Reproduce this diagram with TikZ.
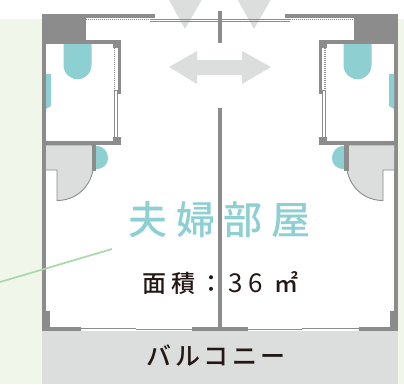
\documentclass[tikz,border=0pt]{standalone}
\usepackage{fontspec}
\setmainfont{Liberation Sans}
\newfontfamily\cjk{Noto Sans CJK JP}
\newfontfamily\cjkb{Noto Sans CJK JP Medium}
\definecolor{wallc}{HTML}{8C8C8C}
\definecolor{palegreen}{HTML}{F1F6EA}
\definecolor{lightgray}{HTML}{DCDEDD}
\definecolor{tealc}{HTML}{8ED0D2}
\definecolor{leader}{HTML}{A9D8A9}
\definecolor{inkc}{HTML}{231815}
\tikzset{
  wall/.style={fill=wallc,draw=none},
  fixture/.style={fill=tealc,draw=none},
  soft/.style={fill=lightgray,draw=none},
  doorline/.style={draw=wallc,line width=0.9pt,fill=lightgray},
  dots/.style={draw=wallc,line width=1.1pt,dash pattern=on 1pt off 1pt},
  glass/.style={draw=wallc,line width=0.7pt,fill=white},
  thinw/.style={draw=wallc,line width=1pt},
}
\begin{document}
\begin{tikzpicture}[x=1pt,y=-1pt]
\useasboundingbox (0,0) rectangle (404,384);
\fill[white] (0,0) rectangle (404,384);
% side panels and balcony
\fill[palegreen] (0,19) rectangle (42,384);
\fill[palegreen] (398,19) rectangle (404,384);
\fill[soft] (42,331) rectangle (398,384);
% soft arrows
\fill[soft] (169,0) -- (201.7,0) -- (185,29) -- cycle;
\fill[soft] (237.7,0) -- (270.7,0) -- (254,29) -- cycle;
\fill[soft] (169,67) -- (197,51) -- (197,60) -- (242,60) -- (242,51) -- (271,67) -- (242,84) -- (242,75) -- (197,75) -- (197,84) -- cycle;
% top sliding doors
\draw[draw=wallc,line width=0.8pt] (149.5,19) -- (290,19);
\draw[draw=wallc,line width=0.8pt] (149.5,21.6) -- (290,21.6);
\draw[dots] (86,19.5) -- (149,19.5);
\draw[dots] (290,19.5) -- (354,19.5);
% outer walls
\fill[wall] (42,14) rectangle (46,331);
\fill[wall] (394,14) rectangle (398,331);
\fill[wall] (42,14) rectangle (86,44);
\fill[wall] (354,14) rectangle (398,44);
\fill[wall] (86,14) rectangle (154.5,18);
\fill[wall] (285,14) rectangle (354,18);
% centre wall
\fill[wall] (217.5,11) rectangle (221.5,43);
\fill[wall] (217.5,107.5) rectangle (222,331);
% left bath
\fill[wall] (86,40) rectangle (120.7,44);
\fill[wall] (112.7,40) rectangle (120.7,48);
\fill[wall] (118,40) rectangle (120.7,94);
\draw[dots] (114.5,48) -- (114.5,89);
\draw[glass] (114.8,90) rectangle (117.6,137);
\fill[wall] (112.7,137) rectangle (120.7,145);
\fill[wall] (46,141) rectangle (120.7,145);
\fill[fixture] (63.5,44) -- (91.5,44) -- (91.5,65) arc[start angle=0,x radius=14,y radius=14.3,delta angle=180] -- cycle;
\fill[fixture] (46,74) -- (51,74) -- (51,106) -- (46,109) -- cycle;
% right bath
\fill[wall] (319.3,40) rectangle (354,44);
\fill[wall] (319.3,40) rectangle (327,48);
\fill[wall] (319.3,40) rectangle (322.3,94);
\draw[dots] (325,48) -- (325,89);
\draw[glass] (322.6,90) rectangle (325.4,137);
\fill[wall] (319.3,137) rectangle (327,145);
\fill[wall] (319.3,141) rectangle (394,145);
\fill[fixture] (343.5,44) -- (371.5,44) -- (371.5,65) arc[start angle=0,x radius=14,y radius=14.3,delta angle=180] -- cycle;
\fill[fixture] (389,74) -- (394,74) -- (394,109) -- (389,106) -- cycle;
% left entry
\fill[soft] (46,145) rectangle (92,170);
\draw[doorline] (46,170) -- (57,170) -- (57,200.5) .. controls (76,200.5) and (90,187) .. (93,170) -- (92,145) -- (46,145);
\fill[soft] (46,146) rectangle (92,169);
\fill[fixture] (96,146) .. controls (104,146) and (108,152) .. (108,158) .. controls (108,164) and (104,169) .. (96,169) -- cycle;
\fill[wall] (92,145) rectangle (96.3,171);
% right entry
\fill[soft] (348,145) rectangle (394,170);
\draw[doorline] (394,170) -- (383,170) -- (383,200.5) .. controls (364,200.5) and (350,187) .. (347,170) -- (348,145) -- (394,145);
\fill[soft] (348,146) rectangle (394,169);
\fill[fixture] (344,146) .. controls (336,146) and (332,152) .. (332,158) .. controls (332,164) and (336,169) .. (344,169) -- cycle;
\fill[wall] (344,145) rectangle (348.5,171);
% bottom wall
\fill[wall] (42,327) rectangle (81,331);
\fill[wall] (42,311) rectangle (50,331);
\fill[wall] (192,327) rectangle (248,331);
\fill[wall] (359,327) rectangle (398,331);
\fill[wall] (390,311) rectangle (398,331);
\draw[thinw] (81,328.5) -- (136,328.5);
\draw[thinw] (136,329.8) -- (192,329.8);
\draw[thinw] (248,329.8) -- (302,329.8);
\draw[thinw] (302,328.5) -- (359,328.5);
% leader
\coordinate (leadA) at (0,282);
\coordinate (leadB) at (112,249);
\draw[leader,line width=1.7pt] (leadA) -- (leadB);
% texts
\node[text=tealc,font=\cjkb\fontsize{39}{39}\selectfont,inner sep=0pt,anchor=center] (room) at (219.5,219.5) {夫\hspace{8.5pt}婦\hspace{8.5pt}部\hspace{8.5pt}屋};
\node[text=inkc,font=\cjkb\fontsize{24}{24}\selectfont,inner sep=0pt,anchor=center] (area) at (220.5,283) {面\hspace{5.5pt}積\hspace{4pt}：\hspace{5pt}{\cjk\fontsize{26}{26}\selectfont 3\hspace{5.5pt}6}\hspace{12pt}㎡};
\node[text=inkc,font=\cjkb\fontsize{25}{25}\selectfont,inner sep=0pt,anchor=center] (balc) at (216,356) {バ\hspace{3.5pt}ル\hspace{3.5pt}コ\hspace{3.5pt}ニ\hspace{3.5pt}ー};
\end{tikzpicture}
\end{document}
